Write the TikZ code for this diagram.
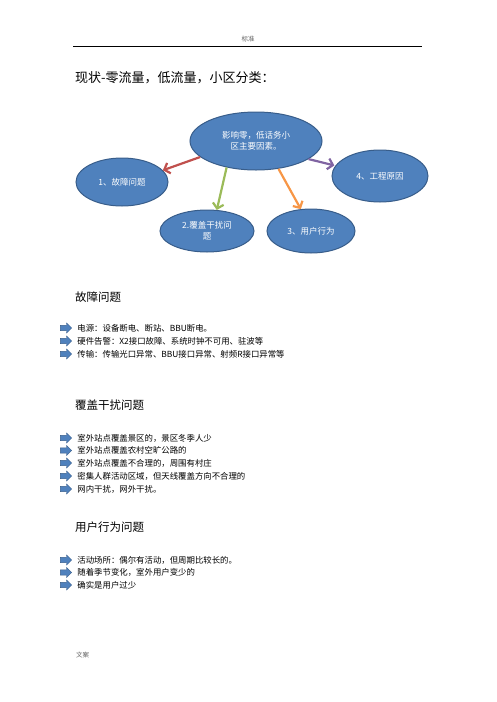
\documentclass[tikz,border=0pt]{standalone}
\usepackage{fontspec}
\setmainfont{Noto Sans CJK SC}
\usetikzlibrary{arrows.meta, positioning, shapes.geometric}
\definecolor{offblue}{HTML}{4F81BD}
\definecolor{offedge}{HTML}{385D8A}
\definecolor{offred}{HTML}{C0504D}
\definecolor{offgreen}{HTML}{9BBB59}
\definecolor{offorange}{HTML}{F79646}
\definecolor{offpurple}{HTML}{8064A2}
\begin{document}
\begin{tikzpicture}[
    x=1pt, y=-1pt,
    % Node styles
    bubble/.style={
        ellipse, draw=offedge, fill=offblue, line width=1pt,
        inner sep=0pt, text=white, align=center,
        font=\fontsize{8.5}{11}\selectfont
    },
    pointer/.style={
        -{Straight Barb[length=5pt, width=11pt]}, line width=2.2pt, color=#1
    },
    pointer/.default=offred,
    marker/.style={
        rectangle, minimum width=12pt, minimum height=10.5pt, inner sep=0pt,
        path picture={
            \filldraw[fill=offblue, draw=offedge, line width=0.4pt]
                (path picture bounding box.west)
                +(0.3pt,2.6pt) -- +(6.5pt,2.6pt) -- +(6.5pt,5pt)
                -- +(11.7pt,0pt) -- +(6.5pt,-5pt) -- +(6.5pt,-2.6pt)
                -- +(0.3pt,-2.6pt) -- cycle;
        }
    },
    item/.style={font=\fontsize{8.4}{10}\selectfont, inner sep=0pt, anchor=west},
    heading/.style={font=\fontsize{11.5}{14}\selectfont, inner sep=0pt, anchor=west},
    pagenote/.style={font=\fontsize{6.5}{8}\selectfont, text=black!60, inner sep=0pt},
]
\useasboundingbox (0,0) rectangle (496,702);

% ═══════════════════════════════════════════════════════════════
% Page header, title and footer
% ═══════════════════════════════════════════════════════════════

\node[pagenote] (hdr) at (248,39) {标准};
\coordinate (ruleL) at (73,46);
\coordinate (ruleR) at (422,46);
\draw[line width=0.8pt] (ruleL) -- (ruleR);

\node[heading, font=\fontsize{13}{15}\selectfont] (title) at (75,78) {现状-零流量，低流量，小区分类：};

\node[pagenote, anchor=west] (ftr) at (76,655) {文案};

% ═══════════════════════════════════════════════════════════════
% Cause diagram
% ═══════════════════════════════════════════════════════════════

\node[bubble, minimum width=132pt, minimum height=58pt, text width=74pt] (C) at (256,141) {
    影响零，低话务小\\区主要因素。
};
\node[bubble, minimum width=92pt, minimum height=48pt] (E1) at (122,182) {1、故障问题};
\node[bubble, minimum width=94pt, minimum height=42pt, text width=60pt] (E2) at (207,231) {2.覆盖干扰问\\题};
\node[bubble, minimum width=88pt, minimum height=44pt] (E3) at (311,231) {3、用户行为};
\node[bubble, minimum width=96pt, minimum height=52pt] (E4) at (380,176) {4、工程原因};

% Arrows from the main cause
\draw[pointer=offred] (C.196) -- (E1.16);
\draw[pointer=offgreen] (C.222) -- (E2.65);
\draw[pointer=offorange] (C.309) -- (E3.115);
\draw[pointer=offpurple, shorten >=1pt] (C.341) -- (E4.167);

% ═══════════════════════════════════════════════════════════════
% Section 1: 故障问题
% ═══════════════════════════════════════════════════════════════

\node[heading] (S1) at (75,297) {故障问题};

\node[marker] (B11) at (66,328) {};
\node[marker] (B12) at (66,341) {};
\node[marker] (B13) at (66,354) {};
\node[item, right=5pt of B11] (T11) {电源：设备断电、断站、BBU断电。};
\node[item, right=5pt of B12] (T12) {硬件告警：X2接口故障、系统时钟不可用、驻波等};
\node[item, right=5pt of B13] (T13) {传输：传输光口异常、BBU接口异常、射频R接口异常等};

% ═══════════════════════════════════════════════════════════════
% Section 2: 覆盖干扰问题
% ═══════════════════════════════════════════════════════════════

\node[heading] (S2) at (75,405) {覆盖干扰问题};

\node[marker] (B21) at (66,438) {};
\node[marker] (B22) at (66,450.5) {};
\node[marker] (B23) at (66,463) {};
\node[marker] (B24) at (66,476) {};
\node[marker] (B25) at (66,489) {};
\node[item, right=5pt of B21] (T21) {室外站点覆盖景区的，景区冬季人少};
\node[item, right=5pt of B22] (T22) {室外站点覆盖农村空旷公路的};
\node[item, right=5pt of B23] (T23) {室外站点覆盖不合理的，周围有村庄};
\node[item, right=5pt of B24] (T24) {密集人群活动区域，但天线覆盖方向不合理的};
\node[item, right=5pt of B25] (T25) {网内干扰，网外干扰。};

% ═══════════════════════════════════════════════════════════════
% Section 3: 用户行为问题
% ═══════════════════════════════════════════════════════════════

\node[heading] (S3) at (75,527) {用户行为问题};

\node[marker] (B31) at (66,560) {};
\node[marker] (B32) at (66,572.5) {};
\node[marker] (B33) at (66,585) {};
\node[item, right=5pt of B31] (T31) {活动场所：偶尔有活动，但周期比较长的。};
\node[item, right=5pt of B32] (T32) {随着季节变化，室外用户变少的};
\node[item, right=5pt of B33] (T33) {确实是用户过少};

\end{tikzpicture}
\end{document}
